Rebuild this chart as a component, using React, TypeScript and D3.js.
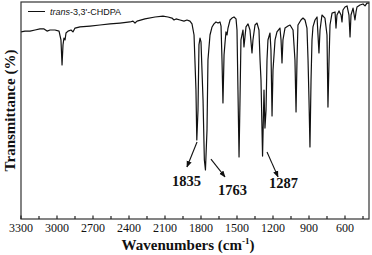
import React from "react";
import * as d3 from "d3";

// spectrum: wavenumber (cm-1) and transmittance (%)
const wavenumbers = [
  3300, 3267, 3225, 3183, 3142, 3108, 3083, 3058, 3017, 2983, 2967, 2958, 2950, 2942, 2933, 2925,
  2908, 2883, 2867, 2850, 2808, 2725, 2642, 2558, 2475, 2392, 2367, 2350, 2333, 2267, 2183, 2117,
  2075, 2042, 2025, 2008, 1975, 1942, 1917, 1892, 1875, 1858, 1842, 1835, 1825, 1817, 1808, 1800,
  1783, 1772, 1763, 1750, 1742, 1725, 1708, 1692, 1675, 1658, 1642, 1633, 1625, 1617, 1608, 1600,
  1592, 1583, 1575, 1558, 1542, 1525, 1508, 1500, 1492, 1483, 1475, 1467, 1450, 1442, 1433, 1425,
  1408, 1392, 1375, 1367, 1350, 1333, 1317, 1308, 1300, 1287, 1275, 1267, 1258, 1250, 1242, 1225,
  1217, 1208, 1200, 1183, 1167, 1142, 1133, 1125, 1117, 1100, 1075, 1058, 1033, 1017, 1008, 1000,
  992, 967, 950, 933, 917, 908, 900, 892, 883, 875, 867, 850, 833, 825, 817, 808,
  792, 767, 750, 742, 733, 725, 708, 683, 675, 667, 650, 633, 625, 617, 600, 583,
  567, 558, 550, 533, 517, 508, 500, 475, 450, 433, 417, 400,
];
const transmittance = [
  86.2, 86.6, 86.6, 87.1, 87.6, 87.6, 86.6, 87.1, 87.1, 86.6, 82.5, 71.0, 80.2, 83.4, 82.5, 85.7,
  86.6, 87.1, 86.2, 88.0, 88.5, 88.9, 89.4, 89.9, 90.3, 90.8, 91.2, 90.3, 91.2, 92.2, 93.1, 93.5,
  93.1, 92.6, 91.7, 92.2, 91.7, 91.2, 91.7, 91.2, 89.9, 84.8, 59.4, 36.4, 50.2, 80.2, 83.4, 81.6,
  54.8, 27.2, 22.6, 41.0, 73.3, 84.8, 88.5, 89.9, 90.8, 90.3, 90.8, 88.9, 73.3, 53.5, 75.6, 81.1,
  86.2, 84.8, 88.0, 91.7, 92.6, 93.1, 92.2, 87.1, 59.4, 28.6, 54.8, 82.5, 87.1, 79.3, 84.3, 88.5,
  89.9, 87.1, 76.5, 82.5, 89.4, 90.3, 87.1, 73.3, 64.1, 29.0, 59.4, 41.9, 50.2, 73.3, 82.5, 85.7,
  77.9, 47.5, 68.7, 82.5, 86.2, 88.0, 82.5, 71.9, 82.5, 88.0, 88.9, 89.4, 87.1, 73.3, 49.3, 73.3,
  89.4, 91.7, 92.6, 91.7, 88.0, 73.3, 54.8, 33.2, 64.1, 82.5, 88.5, 91.7, 93.1, 84.8, 76.5, 87.1,
  94.0, 92.6, 84.8, 51.6, 73.3, 89.4, 94.9, 95.4, 88.0, 94.0, 95.9, 94.0, 90.8, 96.3, 97.7, 98.2,
  94.0, 83.9, 94.0, 97.2, 91.7, 95.4, 97.7, 98.6, 99.1, 98.2, 99.5, 99.5,
];

const majorTicks = [3300, 3000, 2700, 2400, 2100, 1800, 1500, 1200, 900, 600];
const minorTicks = [3150, 2850, 2550, 2250, 1950, 1650, 1350, 1050, 750, 450];

// peak labels: text, label position, arrow start and end (data units)
const peakLabels = ["1835", "1763", "1287"];
const labelX = [1921, 1537, 1112];
const labelY = [15.2, 11, 14.3];
const arrowFrom = [[1833, 35.5], [1717, 27.6], [1250, 30.9]];
const arrowTo = [[1917, 24], [1600, 19.4], [1158, 19.4]];

const seriesName = "3,3'-CHDPA";

export default function App() {
  const W = 372;
  const H = 255;
  const left = 21, right = 369, top = 2, bottom = 219;

  const x = d3.scaleLinear().domain([3300, 400]).range([left, right]);
  const y = d3.scaleLinear().domain([0, 100]).range([bottom, top]);

  const points = wavenumbers.map((w, i) => [w, transmittance[i]] as [number, number]);
  const line = d3
    .line<[number, number]>()
    .x(d => x(d[0]))
    .y(d => y(d[1]));

  const serif = "'Liberation Serif', 'Times New Roman', serif";
  const sans = "'Liberation Sans', Arial, sans-serif";

  return (
    <svg
      width={W}
      height={H}
      style={{ position: "absolute", left: 0, top: 0, background: "#fff" }}
    >
      <defs>
        <marker id="head" viewBox="0 0 10 10" refX="9" refY="5" markerWidth="6" markerHeight="6" orient="auto">
          <path d="M0,1 L10,5 L0,9 Z" fill="#111" />
        </marker>
      </defs>

      <path d={line(points) || ""} fill="none" stroke="#111" strokeWidth={1.2} strokeLinejoin="round" />

      <rect x={left} y={top} width={right - left} height={bottom - top} fill="none" stroke="#333" strokeWidth={1.2} />

      {majorTicks.map(t => (
        <g key={"M" + t}>
          <line x1={x(t)} x2={x(t)} y1={bottom} y2={bottom - 3.5} stroke="#222" strokeWidth={1.2} />
          <text x={x(t)} y={232} textAnchor="middle" fontFamily={serif} fontSize={12} fill="#111">
            {t}
          </text>
        </g>
      ))}
      {minorTicks.map(t => (
        <line key={"m" + t} x1={x(t)} x2={x(t)} y1={bottom} y2={bottom - 3} stroke="#222" strokeWidth={1.2} />
      ))}

      <text x={188} y={250} textAnchor="middle" fontFamily={serif} fontSize={15} fontWeight="bold" fill="#111">
        Wavenumbers (cm<tspan dy={-6} fontSize={9}>-1</tspan><tspan dy={6}>)</tspan>
      </text>
      <text
        transform={`translate(15,${(top + bottom) / 2}) rotate(-90)`}
        textAnchor="middle"
        fontFamily={serif}
        fontSize={15}
        fontWeight="bold"
        fill="#111"
      >
        Transmittance (%)
      </text>

      <line x1={28} x2={45} y1={11.5} y2={11.5} stroke="#111" strokeWidth={1} />
      <text x={50} y={15} fontFamily={sans} fontSize={9} fill="#111">
        <tspan fontStyle="italic">trans</tspan>-{seriesName}
      </text>

      {peakLabels.map((p, i) => (
        <g key={p}>
          <line
            x1={x(arrowFrom[i][0])}
            y1={y(arrowFrom[i][1])}
            x2={x(arrowTo[i][0])}
            y2={y(arrowTo[i][1])}
            stroke="#111"
            strokeWidth={1.1}
            markerEnd="url(#head)"
          />
          <text x={x(labelX[i])} y={y(labelY[i])} textAnchor="middle" fontFamily={serif} fontSize={14.5} fontWeight="bold" fill="#111">
            {p}
          </text>
        </g>
      ))}
    </svg>
  );
}
